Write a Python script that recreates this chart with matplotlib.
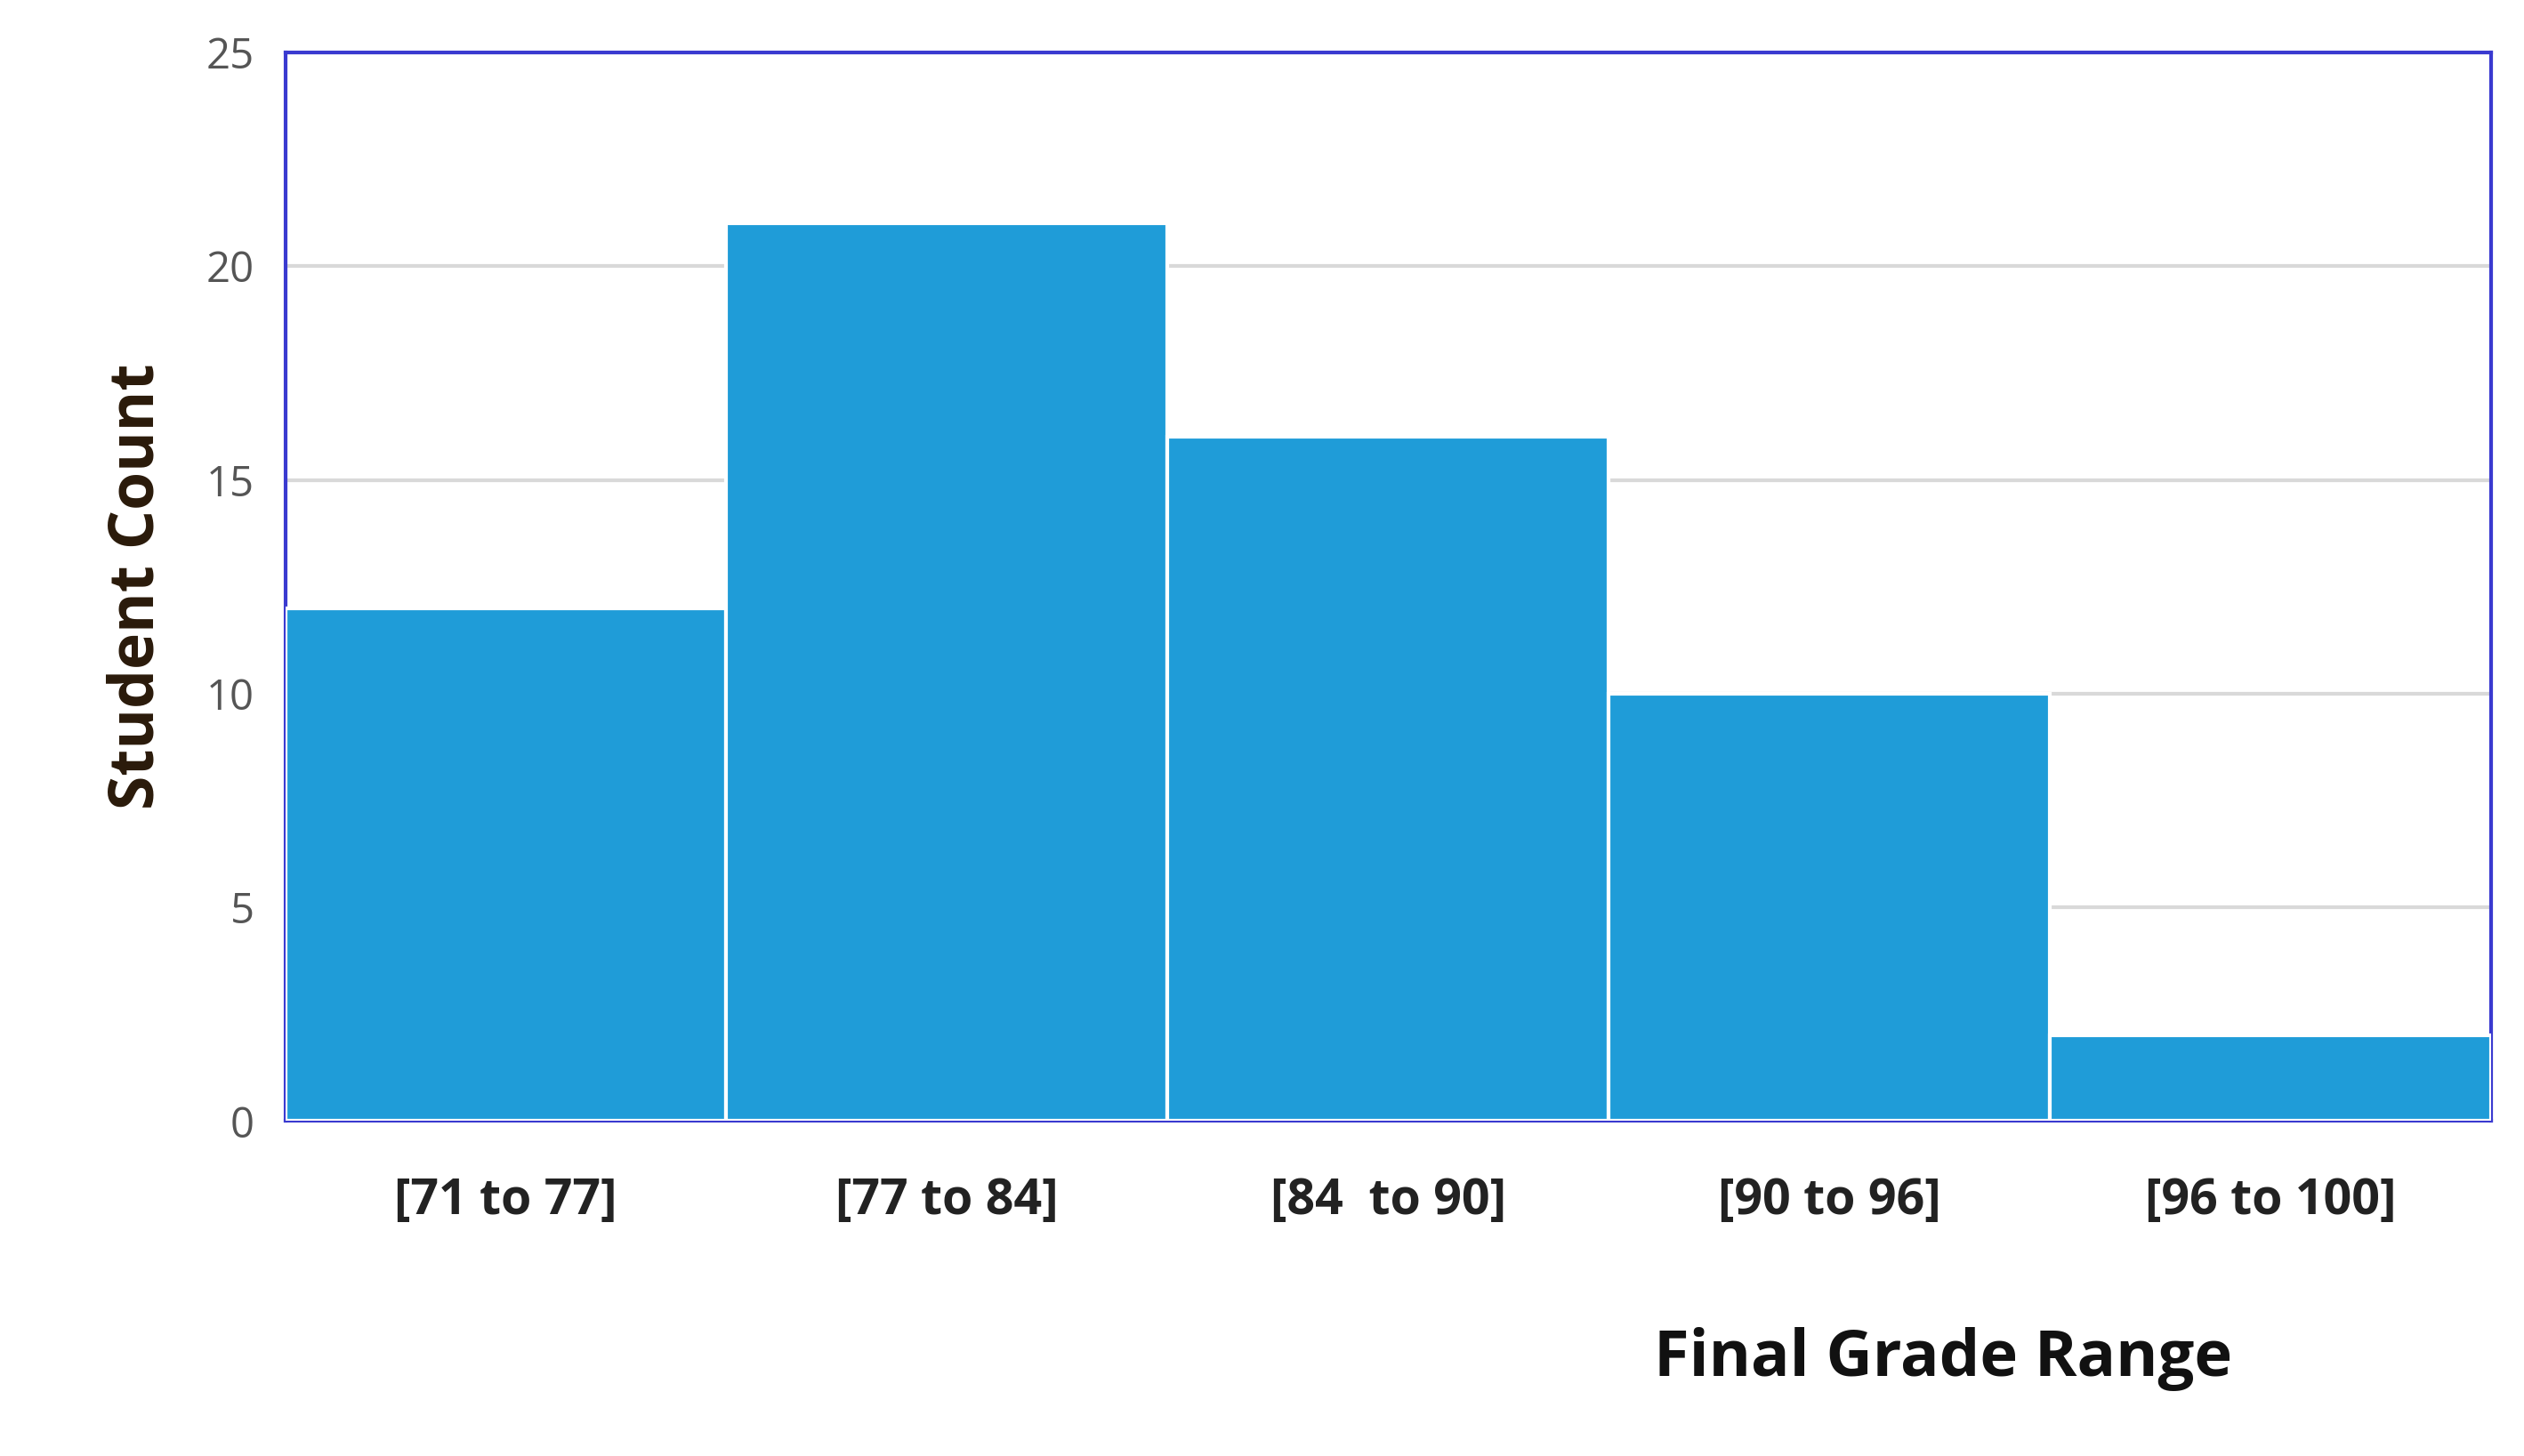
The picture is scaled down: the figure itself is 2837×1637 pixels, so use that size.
import matplotlib
matplotlib.use("Agg")
import matplotlib.pyplot as plt

categories = ["[71 to 77]", "[77 to 84]", "[84  to 90]", "[90 to 96]", "[96 to 100]"]
counts = [12, 21, 16, 10, 2]
yticks = [0, 5, 10, 15, 20, 25]

plt.rcParams['font.family'] = ['Open Sans', 'DejaVu Sans']
fig = plt.figure(figsize=(28.37, 16.37), dpi=100)
ax = fig.add_axes([0.113, 0.23, 0.874, 0.734])
x = list(range(len(categories)))
ax.bar(x, counts, width=1.0, color="#1F9CD8", edgecolor="white", linewidth=3, zorder=3)
ax.set_xlim(-0.5, len(categories) - 0.5)
ax.set_ylim(0, 25)
ax.set_yticks(yticks)
ax.set_yticklabels([str(v) for v in yticks], color="#555555", fontsize=34)
ax.set_xticks(x)
ax.set_xticklabels(categories, fontsize=40, fontweight="bold", color="#222222")
ax.tick_params(axis="both", length=0)
ax.tick_params(axis="x", pad=45)
ax.tick_params(axis="y", pad=25)
ax.yaxis.grid(True, color="#D9D9D9", linewidth=3, zorder=0)
for s in ax.spines.values():
    s.set_color("#3A3AD0")
    s.set_linewidth(3)
ax.set_ylabel("Student Count", fontsize=50, fontweight="bold", color="#2a1a0a", labelpad=30)
fig.text(0.77, 0.055, "Final Grade Range", fontsize=52, fontweight="bold", color="#111111", ha="center")
fig.savefig("out.png", dpi=100)
